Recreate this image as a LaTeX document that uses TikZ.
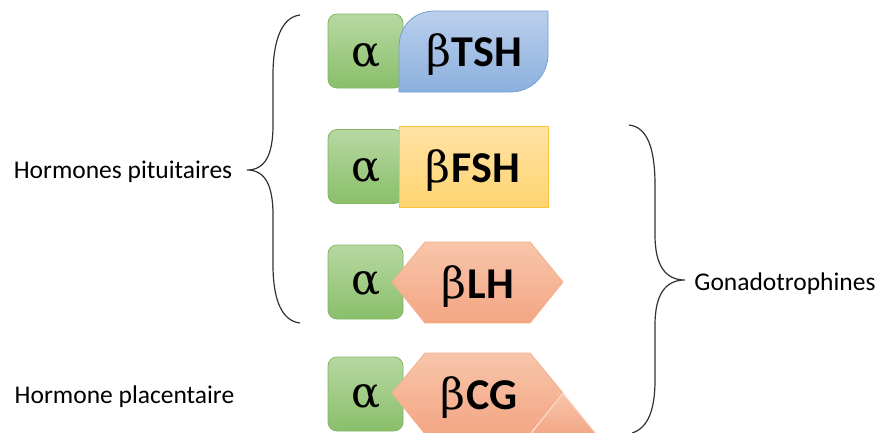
\documentclass[tikz,border=0pt]{standalone}
\usepackage{fontspec}
\setmainfont{Carlito}
\newfontfamily\greekf{DejaVu Serif}
\definecolor{gT}{RGB}{183,216,162}
\definecolor{gB}{RGB}{138,191,106}
\definecolor{gD}{RGB}{128,182,98}
\definecolor{bT}{RGB}{186,207,236}
\definecolor{bB}{RGB}{140,176,222}
\definecolor{bD}{RGB}{118,158,214}
\definecolor{yT}{RGB}{255,226,165}
\definecolor{yB}{RGB}{255,212,112}
\definecolor{yD}{RGB}{252,198,60}
\definecolor{oT}{RGB}{248,197,170}
\definecolor{oB}{RGB}{243,166,132}
\definecolor{oD}{RGB}{244,176,140}
\definecolor{brc}{RGB}{50,50,50}
\tikzset{
  alphabox/.style={draw=gD, line width=0.8pt, top color=gT, bottom color=gB,
    rounded corners=9pt, minimum width=75pt, minimum height=74pt, inner sep=0pt},
  alphatxt/.style={anchor=base, inner sep=0pt, font=\greekf\fontsize{43}{43}\selectfont},
  betablue/.style={draw=bD, line width=0.8pt, top color=bT, bottom color=bB},
  betayel/.style={draw=yD, line width=0.8pt, top color=yT, bottom color=yB},
  betaor/.style={draw=oD, line width=0.8pt, top color=oT, bottom color=oB},
  betatxt/.style={anchor=base, inner sep=0pt},
  lbl/.style={anchor=base, inner sep=0pt, font=\fontsize{25.5}{30}\selectfont},
  brace/.style={draw=brc, line width=1.2pt},
}
\newcommand{\bt}[1]{{\greekf\fontsize{43}{43}\selectfont β}\hspace{1pt}{\fontsize{44}{44}\selectfont\bfseries #1}}
\begin{document}
\begin{tikzpicture}[x=1pt,y=-1pt]
\useasboundingbox (0,0) rectangle (883,432);
\begin{scope}
\clip (0,0) rectangle (883,432);
% alpha boxes
\node[alphabox] (a1) at (365.5,51) {};
\node[alphabox] (a2) at (365.5,166.5) {};
\node[alphabox] (a3) at (365.5,282) {};
\node[alphabox] (a4) at (365.5,394) {};
% beta TSH
\path[betablue] (399,92) -- (399,47) .. controls (399,26) and (414,11) .. (435,11)
  -- (548,11) -- (548,54) .. controls (548,75) and (532,92) .. (510,92) -- cycle;
% beta FSH
\path[betayel] (399,126) rectangle (548,207);
% beta LH
\path[betaor] (392,282) -- (425,242) -- (530,242) -- (563,282) -- (530,323) -- (425,323) -- cycle;
% beta CG
\path[betaor] (392,393) -- (425,353) -- (530,353) -- (563,393) -- (529,434) -- (425,434) -- cycle;
\path[top color=oT, bottom color=oB, draw=white!55!oT, line width=0.8pt]
  (563,393) -- (598,436) -- (529,436) -- cycle;
\end{scope}
% alpha labels
\node[alphatxt] (t1) at (366,66) {α};
\node[alphatxt] (t2) at (366,181) {α};
\node[alphatxt] (t3) at (366,294) {α};
\node[alphatxt] (t4) at (366,407) {α};
% beta labels
\node[betatxt] (tsh) at (474,66) {\bt{TSH}};
\node[betatxt] (fsh) at (473,182) {\bt{FSH}};
\node[betatxt] (lh) at (478,298) {\bt{LH}};
\node[betatxt] (cg) at (479,409) {\bt{CG}};
% side labels
\node[lbl] (hp) at (123,178) {Hormones pituitaires};
\node[lbl] (hpl) at (124.5,403) {Hormone placentaire};
\node[lbl] (gon) at (785,290) {Gonadotrophines};
% braces
\coordinate (lt) at (300,15);
\coordinate (ltip) at (247,170);
\coordinate (lb) at (300,323);
\draw[brace] (lt) .. controls (282,17) and (273,40) .. (273,75) -- (273,125)
  .. controls (273,155) and (265,170) .. (ltip)
  .. controls (265,170) and (273,185) .. (273,215) -- (273,265)
  .. controls (273,300) and (282,321) .. (lb);
\coordinate (rt) at (629,125);
\coordinate (rtip) at (685,280);
\coordinate (rb) at (632,433);
\draw[brace] (rt) .. controls (648,127) and (655,150) .. (655,185) -- (655,235)
  .. controls (655,265) and (665,280) .. (rtip)
  .. controls (665,280) and (655,295) .. (655,325) -- (655,380)
  .. controls (655,410) and (648,428) .. (rb);
\end{tikzpicture}
\end{document}
